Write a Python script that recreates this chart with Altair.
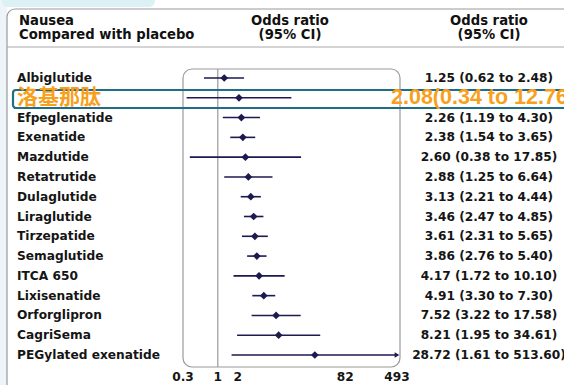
import altair as alt
import pandas as pd

names = ["Albiglutide", "洛基那肽", "Efpeglenatide", "Exenatide", "Mazdutide", "Retatrutide",
         "Dulaglutide", "Liraglutide", "Tirzepatide", "Semaglutide", "ITCA 650", "Lixisenatide",
         "Orforglipron", "CagriSema", "PEGylated exenatide"]
odds = [1.25, 2.08, 2.26, 2.38, 2.60, 2.88, 3.13, 3.46, 3.61, 3.86, 4.17, 4.91, 7.52, 8.21, 28.72]
lower = [0.62, 0.34, 1.19, 1.54, 0.38, 1.25, 2.21, 2.47, 2.31, 2.76, 1.72, 3.30, 3.22, 1.95, 1.61]
upper = [2.48, 12.76, 4.30, 3.65, 17.85, 6.64, 4.44, 4.85, 5.65, 5.40, 10.10, 7.30, 17.58, 34.61, 513.60]
tick_vals = [0.3, 1, 2, 82, 493]
tick_text = ["0.3", "1", "2", "82", "493"]
highlight = "洛基那肽"

XMIN, XMAX = 0.3, 493
W, H = 564, 385
FONT = "DejaVu Sans"
FS = 12.2
NAVY = "#1c1a4f"
ORANGE = "#f8a01c"
TEAL = "#1f6d86"
TXT = "#151515"

df = pd.DataFrame({"name": names, "or": odds, "lo": lower, "hi": upper})
df["hi_c"] = df["hi"].clip(upper=XMAX)
df["lo_c"] = df["lo"].clip(lower=XMIN)
df["label"] = [f"{o:.2f} ({l:.2f} to {h:.2f})" for o, l, h in zip(odds, lower, upper)]
df["hl"] = df["name"] == highlight
df_norm = df[~df["hl"]]
df_hl = df[df["hl"]].copy()
df_hl["label2"] = [f"{o:.2f}({l:.2f} to {h:.2f}" for o, l, h in zip(df_hl["or"], df_hl["lo"], df_hl["hi"])]
df_arrow = df[df["hi"] > XMAX].copy()
df_arrow["xa"] = XMAX

xs = alt.Scale(type="log", domain=[XMIN, XMAX], range=[183, 397])
ys = alt.Scale(type="point", domain=names, range=[78, 355], padding=0)
X = lambda f: alt.X(f, scale=xs, axis=None)
Y = alt.Y("name:N", scale=ys, axis=None)

one = pd.DataFrame({"a": [0]})
base1 = alt.Chart(one)

# background decorations
left_strip = base1.mark_rect(fill="#eef5f8").encode(x=alt.value(0), x2=alt.value(7), y=alt.value(0), y2=alt.value(H))
tab = base1.mark_rect(fill="#dcf1f6", cornerRadius=6).encode(x=alt.value(2), x2=alt.value(155), y=alt.value(-8), y2=alt.value(7))
frame = base1.mark_rect(fill="white", stroke="#9a9a9a", strokeWidth=1.2, cornerRadius=8).encode(
    x=alt.value(7), x2=alt.value(620), y=alt.value(9), y2=alt.value(430))
sep = base1.mark_rule(color="#a8a8a8", strokeWidth=1).encode(x=alt.value(7), x2=alt.value(W), y=alt.value(47))

hdr = pd.DataFrame({
    "t": ["Nausea", "Compared with placebo", "Odds ratio", "(95% CI)", "Odds ratio", "(95% CI)"],
    "x": [19, 19, 290, 290, 489, 489],
    "y": [21, 35, 21, 35, 21, 35],
    "al": ["left", "left", "center", "center", "center", "center"],
})
headers = []
for al in ["left", "center"]:
    headers.append(alt.Chart(hdr[hdr["al"] == al]).mark_text(
        align=al, baseline="middle", font=FONT, fontWeight="bold", fontSize=13.2, color="#111111").encode(
        x=alt.X("x:Q", scale=None), y=alt.Y("y:Q", scale=None), text="t:N"))

plot_box = base1.mark_rect(fill="white", stroke="#9a9a9a", strokeWidth=1.2, cornerRadius=9).encode(
    x=alt.value(183), x2=alt.value(400), y=alt.value(69), y2=alt.value(367))

ref = alt.Chart(pd.DataFrame({"v": [1]})).mark_rule(color="#9a9a9a", strokeWidth=1.2).encode(
    x=X("v:Q"), y=alt.value(69), y2=alt.value(367))

ci = alt.Chart(df).mark_rule(color=NAVY, strokeWidth=1.6).encode(x=X("lo_c:Q"), x2="hi_c:Q", y=Y)
pts = alt.Chart(df).mark_point(shape="diamond", filled=True, color=NAVY, size=60, opacity=1).encode(x=X("or:Q"), y=Y)
arrow = alt.Chart(df_arrow).mark_point(shape="triangle-right", filled=True, color=NAVY, size=30, opacity=1).encode(
    x=X("xa:Q"), y=Y)

name_txt = alt.Chart(df_norm).mark_text(align="left", baseline="middle", font=FONT, fontWeight="bold",
                                         fontSize=FS, color=TXT).encode(
    x=alt.value(17), y=Y, text="name:N")
val_txt = alt.Chart(df_norm).mark_text(align="center", baseline="middle", font=FONT, fontWeight="bold",
                                        fontSize=FS, color=TXT).encode(
    x=alt.value(489), y=Y, text="label:N")

tick_df = pd.DataFrame({"v": tick_vals, "t": tick_text})
ticks = alt.Chart(tick_df).mark_text(align="center", baseline="middle", font=FONT, fontWeight="bold",
                                      fontSize=FS, color=TXT).encode(
    x=X("v:Q"), y=alt.value(377), text="t:N")

hl_box = alt.Chart(df_hl).mark_rect(fill=None, stroke=TEAL, strokeWidth=2.2, cornerRadius=3).encode(
    x=alt.value(13), x2=alt.value(620), y=alt.value(90), y2=alt.value(108))
hl_name = alt.Chart(df_hl).mark_text(align="left", baseline="middle", font="Noto Sans CJK SC", fontWeight="bold",
                                      fontSize=21, color=ORANGE).encode(x=alt.value(17), y=Y, text="name:N")
hl_val = alt.Chart(df_hl).mark_text(align="left", baseline="middle", font="Liberation Sans", fontWeight="bold",
                                     fontSize=21.5, color=ORANGE).encode(x=alt.value(391), y=Y, text="label2:N")

chart = alt.layer(
    left_strip, tab, frame, sep, *headers, plot_box, ref, ci, pts, arrow,
    name_txt, val_txt, ticks, hl_box, hl_name, hl_val
).properties(width=W, height=H, autosize="none", padding=0, background="white").configure_view(stroke=None)

chart.save("out.html", embed_options={"renderer": "svg", "actions": False})
